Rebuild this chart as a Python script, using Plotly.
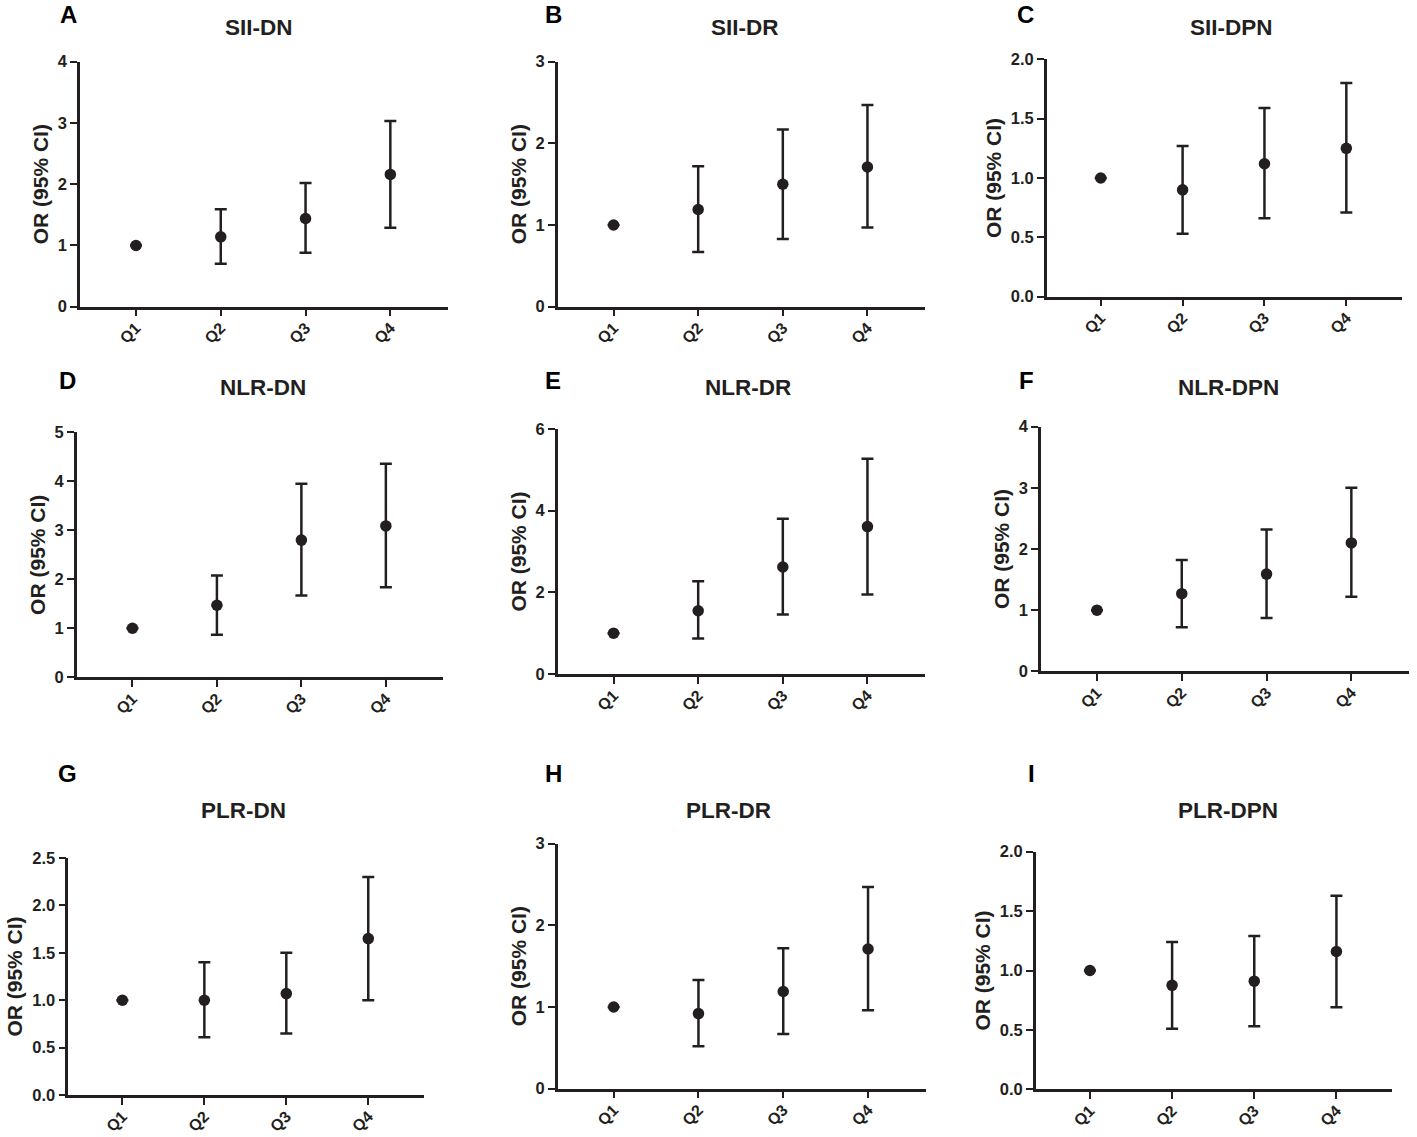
import plotly.graph_objects as go

W, H = 1417, 1137
INK = "#231f20"
FONT = "Liberation Sans, Arial, sans-serif"

# ---- data ----
categories = ["Q1", "Q2", "Q3", "Q4"]
panel_letters = ["A", "B", "C", "D", "E", "F", "G", "H", "I"]
panel_titles = ["SII-DN", "SII-DR", "SII-DPN",
                "NLR-DN", "NLR-DR", "NLR-DPN",
                "PLR-DN", "PLR-DR", "PLR-DPN"]

sii_dn_or = [1.0, 1.14, 1.44, 2.16]
sii_dn_lo = [1.0, 0.70, 0.88, 1.29]
sii_dn_hi = [1.0, 1.59, 2.02, 3.03]

sii_dr_or = [1.0, 1.19, 1.50, 1.71]
sii_dr_lo = [1.0, 0.67, 0.83, 0.97]
sii_dr_hi = [1.0, 1.72, 2.17, 2.47]

sii_dpn_or = [1.0, 0.90, 1.12, 1.25]
sii_dpn_lo = [1.0, 0.53, 0.66, 0.71]
sii_dpn_hi = [1.0, 1.27, 1.59, 1.80]

nlr_dn_or = [1.0, 1.47, 2.80, 3.09]
nlr_dn_lo = [1.0, 0.87, 1.67, 1.84]
nlr_dn_hi = [1.0, 2.08, 3.95, 4.36]

nlr_dr_or = [1.0, 1.55, 2.62, 3.61]
nlr_dr_lo = [1.0, 0.87, 1.46, 1.95]
nlr_dr_hi = [1.0, 2.27, 3.80, 5.27]

nlr_dpn_or = [1.0, 1.27, 1.59, 2.10]
nlr_dpn_lo = [1.0, 0.72, 0.87, 1.22]
nlr_dpn_hi = [1.0, 1.82, 2.32, 3.00]

plr_dn_or = [1.0, 1.00, 1.07, 1.65]
plr_dn_lo = [1.0, 0.61, 0.65, 1.00]
plr_dn_hi = [1.0, 1.40, 1.50, 2.30]

plr_dr_or = [1.0, 0.92, 1.19, 1.71]
plr_dr_lo = [1.0, 0.52, 0.67, 0.96]
plr_dr_hi = [1.0, 1.33, 1.72, 2.47]

plr_dpn_or = [1.0, 0.875, 0.91, 1.16]
plr_dpn_lo = [1.0, 0.51, 0.53, 0.69]
plr_dpn_hi = [1.0, 1.24, 1.29, 1.63]

y_max = [4, 3, 2.0, 5, 6, 4, 2.5, 3, 2.0]
y_step = [1, 1, 0.5, 1, 2, 1, 0.5, 1, 0.5]

series = [
    (sii_dn_or, sii_dn_lo, sii_dn_hi),
    (sii_dr_or, sii_dr_lo, sii_dr_hi),
    (sii_dpn_or, sii_dpn_lo, sii_dpn_hi),
    (nlr_dn_or, nlr_dn_lo, nlr_dn_hi),
    (nlr_dr_or, nlr_dr_lo, nlr_dr_hi),
    (nlr_dpn_or, nlr_dpn_lo, nlr_dpn_hi),
    (plr_dn_or, plr_dn_lo, plr_dn_hi),
    (plr_dr_or, plr_dr_lo, plr_dr_hi),
    (plr_dpn_or, plr_dpn_lo, plr_dpn_hi),
]

# ---- layout in pixels: left, right, top, bottom of each plot area ----
boxes = [
    (80, 448, 61.7, 306.7), (557.7, 925, 61.7, 306.7), (1046.7, 1402, 59.3, 296.7),
    (76.7, 443.3, 432.3, 677.3), (557.7, 925, 429, 674), (1041, 1409, 426.7, 671.3),
    (68.3, 424, 858, 1095), (557.7, 925.7, 843.7, 1088.7), (1035.7, 1392.3, 851.7, 1089.3),
]
title_xy = [(259, 27), (745, 27), (1231, 27),
            (263, 388), (748, 388), (1228, 387),
            (243, 810), (728, 810), (1228, 810)]
letter_xy = [(68, 15), (553, 15), (1025, 15),
             (67, 381), (553, 381), (1026, 380),
             (67, 773), (553, 773), (1031, 773)]

fig = go.Figure()
annotations = []

for i, (ors, lo, hi) in enumerate(series):
    n = i + 1
    xname = "x" if n == 1 else f"x{n}"
    yname = "y" if n == 1 else f"y{n}"

    plus = [h - o if h != l else None for o, l, h in zip(ors, lo, hi)]
    minus = [o - l if h != l else None for o, l, h in zip(ors, lo, hi)]

    fig.add_trace(go.Scatter(
        x=categories, y=ors, mode="markers",
        marker=dict(size=11.5, color=INK),
        error_y=dict(type="data", symmetric=False, array=plus, arrayminus=minus,
                     thickness=2.5, width=6, color=INK),
        xaxis=xname, yaxis=yname, showlegend=False, cliponaxis=False,
    ))

    l, r, t, b = boxes[i]
    fig.layout[f"xaxis{'' if n == 1 else n}"] = dict(
        domain=[l / W, r / W], anchor=yname, automargin=False,
        type="category", range=[-0.66, 3.68],
        showline=True, linecolor=INK, linewidth=2.5,
        ticks="outside", ticklen=7, tickwidth=2, tickcolor=INK,
        tickangle=-45, ticklabelstandoff=-4,
        showgrid=False, zeroline=False,
        tickfont=dict(family=FONT, size=16, color=INK, weight="bold"),
    )
    fig.layout[f"yaxis{'' if n == 1 else n}"] = dict(
        domain=[1 - b / H, 1 - t / H], anchor=xname, automargin=False,
        range=[0, y_max[i]], dtick=y_step[i], tick0=0,
        tickformat=".1f" if y_step[i] < 1 else "d",
        showline=True, linecolor=INK, linewidth=2.5,
        ticks="outside", ticklen=7, tickwidth=2, tickcolor=INK,
        showgrid=False, zeroline=False,
        tickfont=dict(family=FONT, size=16.5, color=INK, weight="bold"),
        title=dict(text="<b>OR (95% CI)</b>", standoff=4,
                   font=dict(family=FONT, size=21, color=INK)),
    )

    tx, ty = title_xy[i]
    annotations.append(dict(
        x=tx / W, y=1 - ty / H, xref="paper", yref="paper",
        text=f"<b>{panel_titles[i]}</b>", showarrow=False,
        xanchor="center", yanchor="middle",
        font=dict(family=FONT, size=22.5, color=INK),
    ))
    lx, ly = letter_xy[i]
    annotations.append(dict(
        x=lx / W, y=1 - ly / H, xref="paper", yref="paper",
        text=f"<b>{panel_letters[i]}</b>", showarrow=False,
        xanchor="center", yanchor="middle",
        font=dict(family=FONT, size=24, color="#000"),
    ))

fig.update_layout(
    template="none",
    width=W, height=H,
    margin=dict(l=0, r=0, t=0, b=0),
    paper_bgcolor="white", plot_bgcolor="white",
    annotations=annotations,
    font=dict(family=FONT, color=INK),
)

# drop the default 8px page margin so the figure sits at the window corner
fig.write_html("out.html", config={"displayModeBar": False},
               post_script="document.body.style.margin='0';")
